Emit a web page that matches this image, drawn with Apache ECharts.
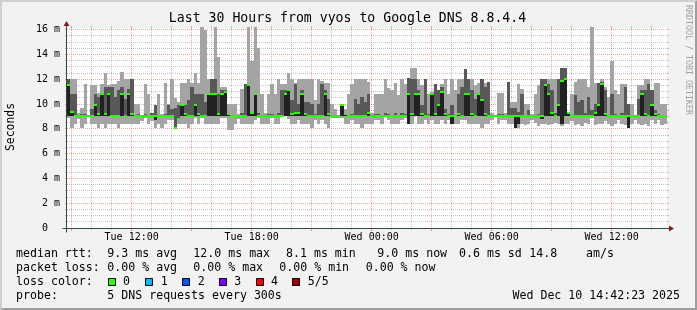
<!DOCTYPE html>
<html><head><meta charset="utf-8">
<script src="https://cdn.jsdelivr.net/npm/echarts@6/dist/echarts.min.js"></script>
<style>html,body{margin:0;padding:0;background:#f2f2f2}#c{width:697px;height:310px}</style>
</head><body><div id="c"></div>
<script>
// ---- time axis (minutes since Tue 00:00) ----
const startMinute = 526;    // Tue 08:46
const endMinute = 2326;     // Wed 14:46
const stepMinutes = 10;
const yMax = 16.14;
const xTickValues = [720, 1080, 1440, 1800, 2160];
const xTickLabels = ['Tue 12:00', 'Tue 18:00', 'Wed 00:00', 'Wed 06:00', 'Wed 12:00'];
const yTickValues = [0, 2, 4, 6, 8, 10, 12, 14, 16];
const yTickLabels = ['0  ', '2 m', '4 m', '6 m', '8 m', '10 m', '12 m', '14 m', '16 m'];

// ---- RTT smoke per 10-min step (ms): min, 2nd, median, 4th, max ----
const lo = [
8.9,8.1,8.4,8.8,8.1,8.4,9.0,8.4,8.4,8.1, 8.4,8.1,8.4,8.4,8.4,8.1,8.4,8.4,8.4,8.4, 8.4,8.4,8.6,8.9,8.4,8.6,8.1,8.4,8.1,8.4, 8.7,8.7,8.1,8.4,8.4,8.4,8.1,8.4,8.9,8.4, 8.9,8.4,8.4,8.4,8.4,
8.4,8.9,8.9,7.9,7.9,8.4,8.8,8.4,8.4,8.4, 8.4,8.7,8.9,8.4,8.4,8.4,8.9,8.4,8.4,9.0, 9.0,8.8,8.4,8.4,8.7,8.4,8.4,8.4,8.1,8.7, 8.4,8.7,8.4,8.1,8.9,8.9,8.9,8.9,8.4,8.4, 8.7,8.4,8.4,8.1,8.4,
8.4,8.4,8.7,8.7,8.4,9.0,8.7,8.4,8.4,8.4, 8.7,8.9,8.4,8.4,9.0,8.4,8.4,8.7,8.4,8.7, 8.4,8.4,8.7,8.4,8.7,8.4,8.4,8.4,8.7,8.7, 8.4,8.4,8.4,8.4,8.1,8.4,8.4,8.7,9.0,8.4, 8.7,8.7,8.4,8.4,8.1,
8.1,8.4,8.3,8.4,8.7,8.5,8.2,8.4,8.4,8.3, 8.4,8.5,8.4,8.2,8.4,8.4,8.6,8.3,8.4,8.2, 8.5,8.4,8.9,8.3,8.4,8.4,8.6,8.4,8.2,8.4, 8.7,8.4,8.3,8.1,8.4,8.7,8.4,8.3,8.4,8.2, 8.7,8.4,8.7,8.3,8.4
];
const q1 = [
9.0,9.0,9.0,9.0,9.0,9.0,9.0,9.0,9.0,9.0, 9.0,9.0,9.0,9.0,9.0,9.0,9.0,9.0,9.0,9.0, 9.0,9.0,9.0,9.0,9.0,9.0,8.7,9.0,9.0,9.0, 9.0,9.0,8.1,8.7,9.0,9.0,9.0,9.0,9.0,9.0, 9.0,9.0,9.0,9.0,9.0,
9.0,9.0,9.0,9.0,9.0,9.0,9.0,9.0,9.0,9.0, 9.0,9.0,9.0,9.0,9.0,9.0,9.0,9.0,9.0,9.0, 9.0,9.0,9.0,9.0,9.0,9.0,9.0,9.0,9.0,9.0, 9.0,9.0,9.0,9.0,9.0,9.0,9.0,9.0,9.0,9.0, 9.0,9.0,9.0,9.0,9.0,
9.0,9.0,9.0,9.0,9.0,9.0,9.0,9.0,9.0,9.0, 9.0,9.0,8.4,9.0,9.0,9.0,9.0,9.0,9.0,9.0, 9.0,9.0,9.0,9.0,9.0,8.4,9.0,9.0,9.0,9.0, 9.0,9.0,9.0,9.0,9.0,9.0,9.0,9.0,9.0,9.0, 9.0,9.0,9.0,9.0,8.1,
8.4,9.0,9.0,9.0,9.0,9.0,9.0,8.8,9.0,9.0, 9.0,9.0,9.0,8.4,9.0,9.0,9.0,9.0,9.0,9.0, 9.0,9.0,9.0,9.0,9.0,9.0,9.0,9.0,9.0,9.0, 9.0,9.0,9.0,8.1,9.0,9.0,9.0,9.0,9.0,9.0, 9.0,9.0,9.0,9.0,9.0
];
const med = [
11.5,9.4,9.0,9.0,9.0,9.0,9.0,9.0,9.9,9.2, 10.8,9.2,10.8,9.0,9.0,9.0,10.8,9.0,10.8,9.2, 9.0,9.0,9.0,9.0,9.0,9.0,9.0,9.0,9.0,9.0, 9.0,9.0,8.1,8.8,9.9,9.2,9.0,9.0,9.9,9.2, 9.0,9.0,10.8,10.8,10.8,
9.2,10.8,11.0,9.2,9.0,9.0,9.0,9.0,9.0,11.5, 9.3,10.8,9.0,9.0,9.0,9.0,9.0,9.0,9.0,9.0, 10.8,11.1,9.2,9.3,9.3,10.8,9.2,9.0,9.0,9.0, 9.0,9.0,10.8,9.2,9.0,9.0,9.0,9.9,9.2,9.0, 9.0,9.0,9.0,9.0,9.0,
9.3,9.0,9.0,9.0,9.0,9.0,9.0,9.0,9.0,9.0, 9.0,9.0,10.8,9.2,10.8,10.8,9.2,9.0,9.0,10.8, 9.2,9.9,11.0,9.2,9.0,9.0,9.0,9.2,9.0,10.8, 10.8,9.2,9.0,10.8,10.3,9.2,9.0,9.0,9.0,9.0, 9.0,9.0,9.0,9.0,9.0,
9.0,9.0,9.0,9.0,9.0,9.0,9.0,9.0,11.5,10.8, 9.3,9.0,9.9,11.9,12.0,9.3,9.0,9.0,9.0,9.0, 9.0,9.0,9.0,9.3,9.9,11.6,9.2,9.0,9.0,9.0, 9.0,9.0,9.0,9.0,9.0,9.0,9.0,10.8,9.2,9.0, 9.9,9.2,9.0,9.0,9.0
];
const q3 = [
12.0,10.8,10.8,9.0,9.2,9.2,9.0,9.6,10.8,10.6, 10.9,11.4,11.4,11.4,10.6,11.1,11.4,10.4,11.2,12.0, 9.0,9.2,9.0,9.2,9.0,9.3,9.9,9.0,9.0,9.2, 9.9,9.6,9.7,9.9,10.0,9.9,10.3,11.4,10.8,10.8, 10.8,10.2,10.8,12.0,12.0,
10.8,11.1,11.1,9.2,9.0,9.0,9.0,9.3,11.6,11.6, 9.3,10.9,9.3,9.0,9.0,9.2,9.2,9.0,9.3,11.1, 11.1,11.1,10.3,11.6,10.0,11.1,10.2,10.2,10.0,9.2, 10.0,11.6,11.1,10.4,9.0,9.0,9.0,9.9,9.3,9.0, 9.2,10.4,10.0,10.6,10.2,
10.8,9.0,9.2,9.2,9.0,9.3,9.2,9.0,9.3,9.0, 9.3,9.2,12.1,12.0,12.0,11.1,9.9,12.0,9.2,10.9, 11.6,11.1,11.4,9.6,9.2,9.9,9.0,10.8,11.4,12.8, 12.0,11.1,10.4,10.9,12.0,11.4,11.8,9.0,9.0,9.2, 9.2,9.0,11.8,9.7,9.7,
9.4,10.8,9.0,9.5,9.0,9.0,9.2,12.0,12.0,11.6, 11.1,9.3,12.0,12.9,12.9,9.3,9.0,10.7,10.2,10.3, 9.3,10.6,9.5,10.0,11.7,11.8,11.1,9.0,10.8,9.2, 9.0,9.3,11.4,10.0,9.0,9.0,10.4,11.1,11.1,11.6, 11.1,9.5,9.2,9.0,9.0
];
const hi = [
12.0,12.0,12.0,9.3,9.7,11.6,9.0,11.5,11.5,10.9, 11.6,12.5,11.5,11.6,11.6,11.9,12.6,12.0,12.0,12.0, 10.0,10.0,9.0,11.6,10.8,9.3,9.9,10.8,9.2,11.7, 10.0,12.0,10.5,10.2,11.7,11.7,12.0,11.7,12.5,11.7, 16.2,16.0,12.0,12.0,16.2,
13.8,11.4,11.4,10.0,10.0,10.0,9.2,11.2,11.6,16.2, 13.5,16.2,14.5,10.8,9.3,10.8,11.6,10.8,12.0,11.6, 11.6,12.5,12.0,11.7,12.0,12.0,12.0,12.0,12.0,10.3, 12.0,11.9,11.7,11.7,10.0,9.6,9.0,10.0,9.6,10.8, 11.6,12.0,12.0,12.0,12.0,
11.8,9.3,10.8,10.8,10.8,12.0,11.3,11.1,11.7,10.7, 12.0,11.6,12.1,12.9,12.9,12.0,11.5,12.0,10.8,11.0, 11.6,11.1,11.6,12.0,10.8,12.0,11.1,12.0,12.0,12.8, 12.0,12.0,11.5,11.7,12.0,11.7,11.8,9.3,9.0,10.9, 10.9,9.3,11.8,10.2,10.2,
11.6,11.2,10.0,10.0,9.2,10.8,11.5,12.0,12.0,12.0, 12.0,12.0,12.0,12.9,12.9,9.3,10.8,11.8,12.0,12.0, 12.0,11.4,16.2,11.7,11.7,12.0,11.4,10.6,13.5,11.1, 10.8,11.6,11.6,10.0,10.0,9.0,11.5,11.5,12.0,12.0, 11.1,11.7,11.7,10.0,10.0
];

// ---- legend texts ----
const titleText = 'Last 30 Hours from vyos to Google DNS 8.8.4.4';
const rttRow = ['median rtt:', '9.3 ms avg', '12.0 ms max', '8.1 ms min', '9.0 ms now', '0.6 ms sd', '14.8', 'am/s'];
const lossRow = ['packet loss:', '0.00 % avg', '0.00 % max', '0.00 % min', '0.00 % now'];
const lossLabels = ['0', '1', '2', '3', '4', '5/5'];
const lossColors = ['#26ff00', '#00b8ff', '#0059ff', '#7e00ff', '#ff0000', '#a10000'];
const probeRow = ['probe:', '5 DNS requests every 300s'];
const stampText = 'Wed Dec 10 14:42:23 2025';

// layout
const rttX = [16, 107.3, 193.3, 286, 377.3, 459, 529.3, 586];
const lossX = [16, 107.3, 193.3, 279.3, 365.7];
const boxX = [108, 145, 182, 219, 256, 292];
const boxLabelX = [123, 160.7, 197.7, 234.3, 271, 307.7];
const MONO = '"DejaVu Sans Mono", monospace';

const smokeData = lo.map((v, i) => [startMinute + i * stepMinutes, startMinute + (i + 1) * stepMinutes, lo[i], q1[i], med[i], q3[i], hi[i]]);

const gridItems = [];
for (let v = 0.5; v <= 16; v += 0.5) gridItems.push([0, v, (v % 2 === 0) ? 1 : 0]);
for (let m = 540; m < endMinute; m += 60) gridItems.push([1, m, (m % 180 === 0) ? 1 : 0]);

const GRID_MINOR = 'rgba(143,143,143,0.55)';
const GRID_MAJOR = 'rgba(222,80,55,0.5)';

function renderGrid(params, api) {
  const kind = api.value(0), v = api.value(1), major = api.value(2);
  const color = major ? GRID_MAJOR : GRID_MINOR;
  const p0 = api.coord([startMinute, 0]);
  const p1 = api.coord([endMinute, yMax]);
  const x0 = Math.round(p0[0]), x1 = Math.round(p1[0]);
  const y0 = Math.round(p0[1]), y1 = Math.round(p1[1]);
  if (kind === 0) {
    const y = Math.floor(api.coord([startMinute, v])[1]) + 0.5;
    return { type: 'group', children: [
      { type: 'line', shape: { x1: x0, y1: y, x2: x1, y2: y }, style: { stroke: color, lineWidth: 1, lineDash: [1, 1] } },
      { type: 'line', shape: { x1: x0 - 2, y1: y, x2: x0, y2: y }, style: { stroke: color, lineWidth: 1 } },
      { type: 'line', shape: { x1: x1, y1: y, x2: x1 + 2, y2: y }, style: { stroke: color, lineWidth: 1 } }
    ]};
  }
  const x = Math.floor(api.coord([v, 0])[0]) + 0.5;
  return { type: 'group', children: [
    { type: 'line', shape: { x1: x, y1: y1, x2: x, y2: y0 }, style: { stroke: color, lineWidth: 1, lineDash: [1, 1] } },
    { type: 'line', shape: { x1: x, y1: y0, x2: x, y2: y0 + (major ? 3 : 2) }, style: { stroke: color, lineWidth: 1 } },
    { type: 'line', shape: { x1: x, y1: y1 - 2, x2: x, y2: y1 }, style: { stroke: color, lineWidth: 1 } }
  ]};
}

function renderSmoke(params, api) {
  const t0 = api.value(0), t1 = api.value(1);
  const X0 = Math.round(api.coord([t0, 0])[0]);
  const X1 = Math.round(api.coord([t1, 0])[0]);
  const w = X1 - X0;
  const Y = v => Math.round(api.coord([t0, v])[1]);
  const L = api.value(2), Q1 = api.value(3), M = api.value(4), Q3 = api.value(5), H = api.value(6);
  const ch = [];
  const band = (a, b, fill) => {
    const top = Y(b), bot = Y(a);
    if (bot > top) ch.push({ type: 'rect', shape: { x: X0, y: top, width: w, height: bot - top }, style: { fill: fill } });
  };
  band(L, H, '#a4a4a4');
  band(Q1, M, '#222222');
  band(M, Q3, '#585858');
  const gy = Math.round(api.coord([t0, M])[1]);
  ch.push({ type: 'rect', shape: { x: X0, y: gy - 1, width: w, height: 2 }, style: { fill: '#26ff00' } });
  return { type: 'group', children: ch };
}

function renderAxes(params, api) {
  const o = api.coord([startMinute, 0]);
  const r = api.coord([endMinute, 0]);
  const t = api.coord([startMinute, yMax]);
  const ox = Math.round(o[0]) - 0.5, oy = Math.round(o[1]) + 0.5;
  const rx = Math.round(r[0]), ty = Math.round(t[1]);
  const AX = '#2c4d43', AR = '#7f1f1f';
  return { type: 'group', children: [
    { type: 'line', shape: { x1: ox - 4, y1: oy, x2: rx + 4, y2: oy }, style: { stroke: AX, lineWidth: 1 } },
    { type: 'line', shape: { x1: ox, y1: oy + 4, x2: ox, y2: ty - 4 }, style: { stroke: AX, lineWidth: 1 } },
    { type: 'polygon', shape: { points: [[rx + 2, oy - 3], [rx + 2, oy + 3], [rx + 7, oy]] }, style: { fill: AR } },
    { type: 'polygon', shape: { points: [[ox - 3, ty - 2], [ox + 3, ty - 2], [ox, ty - 7]] }, style: { fill: AR } }
  ]};
}

const graphics = [
  { type: 'polygon', z: 0, shape: { points: [[0, 0], [0, 310], [2, 308], [2, 2], [695, 2], [697, 0]] }, style: { fill: '#cfcfcf' } },
  { type: 'polygon', z: 0, shape: { points: [[0, 310], [697, 310], [697, 0], [695, 2], [695, 308], [2, 308]] }, style: { fill: '#9e9e9e' } },
  { type: 'text', x: 347.5, y: 19, style: { text: titleText, font: '13.2px ' + MONO, fill: '#000', align: 'center', verticalAlign: 'middle', textAlign: 'center', textVerticalAlign: 'middle' } },
  { type: 'text', x: 10.7, y: 127, rotation: Math.PI / 2, style: { text: 'Seconds', font: '11.4px ' + MONO, fill: '#000', align: 'center', verticalAlign: 'middle', textAlign: 'center', textVerticalAlign: 'middle' } },
  { type: 'text', x: 688.5, y: 5, rotation: -Math.PI / 2, style: { text: 'RRDTOOL / TOBI OETIKER', font: '8.3px ' + MONO, fill: '#a0a0a0', align: 'left', verticalAlign: 'middle', textAlign: 'left', textVerticalAlign: 'middle' } }
];
function addText(x, y, s, align) {
  graphics.push({ type: 'text', x: x, y: y, style: { text: s, font: '11.6px ' + MONO, fill: '#000', align: align || 'left', verticalAlign: 'middle', textAlign: align || 'left', textVerticalAlign: 'middle' } });
}
rttRow.forEach((s, i) => addText(rttX[i], 254.3, s));
lossRow.forEach((s, i) => addText(lossX[i], 268.3, s));
addText(16, 282.3, 'loss color:');
lossLabels.forEach((s, i) => {
  graphics.push({ type: 'rect', shape: { x: boxX[i] + 0.5, y: 278.5, width: 7, height: 7 }, style: { fill: lossColors[i], stroke: '#000', lineWidth: 1 } });
  addText(boxLabelX[i], 282.3, s);
});
addText(16, 296, probeRow[0]);
addText(107.3, 296, probeRow[1]);
addText(680, 296, stampText, 'right');

const chart = echarts.init(document.getElementById('c'), null, { renderer: 'canvas', width: 697, height: 310 });
chart.setOption({
  animation: false,
  backgroundColor: '#f2f2f2',
  grid: { left: 67, top: 28, width: 600, height: 200, show: true, backgroundColor: '#ffffff', borderWidth: 0 },
  xAxis: {
    type: 'value', min: startMinute, max: endMinute,
    axisLine: { show: false }, axisTick: { show: false }, splitLine: { show: false },
    axisLabel: {
      customValues: xTickValues, margin: 4,
      formatter: v => { const k = xTickValues.indexOf(v); return k < 0 ? '' : xTickLabels[k]; },
      fontFamily: 'DejaVu Sans Mono', fontSize: 10, color: '#000'
    }
  },
  yAxis: {
    type: 'value', min: 0, max: yMax, interval: 2,
    axisLine: { show: false }, axisTick: { show: false }, splitLine: { show: false },
    axisLabel: {
      customValues: yTickValues, margin: 7,
      formatter: v => { const k = yTickValues.indexOf(v); return k < 0 ? '' : yTickLabels[k]; },
      fontFamily: 'DejaVu Sans Mono', fontSize: 10, color: '#000'
    }
  },
  graphic: graphics,
  series: [
    { type: 'custom', z: 1, renderItem: renderGrid, data: gridItems, silent: true },
    { type: 'custom', z: 2, renderItem: renderSmoke, data: smokeData, encode: { x: [0, 1], y: [2, 6] }, silent: true },
    { type: 'custom', z: 3, renderItem: renderAxes, data: [[startMinute, 0]], silent: true }
  ]
});
</script>
</body></html>
